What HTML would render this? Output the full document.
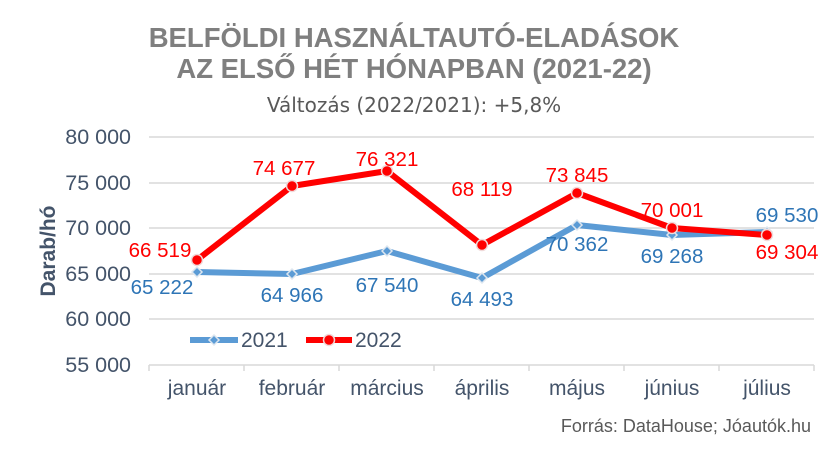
<!DOCTYPE html>
<html><head><meta charset="utf-8"><style>
html,body{margin:0;padding:0;background:#fff;}
svg{display:block;font-family:"Liberation Sans",sans-serif;}
</style></head><body>
<svg width="829" height="449" viewBox="0 0 829 449">
<text x="414" y="47" text-anchor="middle" font-size="27.5" font-weight="bold" fill="#7f7f7f">BELFÖLDI HASZNÁLTAUTÓ-ELADÁSOK</text>
<text x="414" y="78" text-anchor="middle" font-size="27.5" font-weight="bold" fill="#7f7f7f">AZ ELSŐ HÉT HÓNAPBAN (2021-22)</text>
<text x="414" y="112" text-anchor="middle" font-size="20" fill="#595959" font-family="DejaVu Sans, sans-serif">Változás (2022/2021): +5,8%</text>
<g stroke="#d9d9d9" stroke-width="1.5">
<line x1="149" y1="137" x2="814" y2="137"/>
<line x1="149" y1="183" x2="814" y2="183"/>
<line x1="149" y1="228" x2="814" y2="228"/>
<line x1="149" y1="274" x2="814" y2="274"/>
<line x1="149" y1="319" x2="814" y2="319"/>
<line x1="149" y1="365" x2="814" y2="365"/>
<line x1="149" y1="365" x2="149" y2="371"/><line x1="244" y1="365" x2="244" y2="371"/><line x1="339" y1="365" x2="339" y2="371"/><line x1="434" y1="365" x2="434" y2="371"/><line x1="529" y1="365" x2="529" y2="371"/><line x1="624" y1="365" x2="624" y2="371"/><line x1="719" y1="365" x2="719" y2="371"/><line x1="814" y1="365" x2="814" y2="371"/>
</g>
<g font-size="21.5" fill="#44546a" text-anchor="end">
<text x="131" y="144">80 000</text><text x="131" y="190">75 000</text><text x="131" y="235">70 000</text><text x="131" y="281">65 000</text><text x="131" y="326">60 000</text><text x="131" y="372">55 000</text>
</g>
<text transform="translate(55,251) rotate(-90)" text-anchor="middle" font-size="21" font-weight="bold" fill="#44546a">Darab/hó</text>
<g font-size="21" fill="#44546a" text-anchor="middle">
<text x="197" y="395">január</text><text x="292" y="395">február</text><text x="387" y="395">március</text><text x="482" y="395">április</text><text x="577" y="395">május</text><text x="672" y="395">június</text><text x="767" y="395">július</text>
</g>
<polyline points="197,272 292,274 387,251 482,278 577,225 672,235 767,232" fill="none" stroke="#5b9bd5" stroke-width="6" stroke-linejoin="round"/>
<g fill="#5b9bd5" stroke="#dde6ef" stroke-width="1.5">
<path d="M197,267 l5,5 -5,5 -5,-5z"/><path d="M292,269 l5,5 -5,5 -5,-5z"/><path d="M387,246 l5,5 -5,5 -5,-5z"/><path d="M482,273 l5,5 -5,5 -5,-5z"/><path d="M577,220 l5,5 -5,5 -5,-5z"/><path d="M672,230 l5,5 -5,5 -5,-5z"/><path d="M767,227 l5,5 -5,5 -5,-5z"/>
</g>
<polyline points="197,260 292,186 387,171 482,245 577,193 672,228 767,235" fill="none" stroke="#ff0000" stroke-width="6" stroke-linejoin="round"/>
<g fill="#ff0000" stroke="#f0dada" stroke-width="1.5">
<circle cx="197" cy="260" r="5.5"/><circle cx="292" cy="186" r="5.5"/><circle cx="387" cy="171" r="5.5"/><circle cx="482" cy="245" r="5.5"/><circle cx="577" cy="193" r="5.5"/><circle cx="672" cy="228" r="5.5"/><circle cx="767" cy="235" r="5.5"/>
</g>
<g font-size="20.5" fill="#ff0000" text-anchor="middle">
<text x="160" y="257">66 519</text><text x="284" y="175">74 677</text><text x="387" y="166">76 321</text><text x="482" y="196">68 119</text><text x="577" y="182">73 845</text><text x="672" y="217">70 001</text><text x="787" y="259">69 304</text>
</g>
<g font-size="20.5" fill="#2e75b6" text-anchor="middle">
<text x="162" y="294">65 222</text><text x="292" y="302">64 966</text><text x="387" y="292">67 540</text><text x="482" y="306">64 493</text><text x="577" y="251">70 362</text><text x="672" y="263">69 268</text><text x="787" y="222">69 530</text>
</g>
<line x1="190" y1="340" x2="238" y2="340" stroke="#5b9bd5" stroke-width="6"/>
<path d="M214,335 l5,5 -5,5 -5,-5z" fill="#5b9bd5" stroke="#dde6ef" stroke-width="1.5"/>
<text x="241" y="347" font-size="21" fill="#44546a">2021</text>
<line x1="306" y1="340" x2="352" y2="340" stroke="#ff0000" stroke-width="6"/>
<circle cx="329" cy="340" r="5.5" fill="#ff0000" stroke="#f0dada" stroke-width="1.5"/>
<text x="355" y="347" font-size="21" fill="#44546a">2022</text>
<text x="811" y="432" text-anchor="end" font-size="18" fill="#595959">Forrás: DataHouse; Jóautók.hu</text>
</svg>
</body></html>
